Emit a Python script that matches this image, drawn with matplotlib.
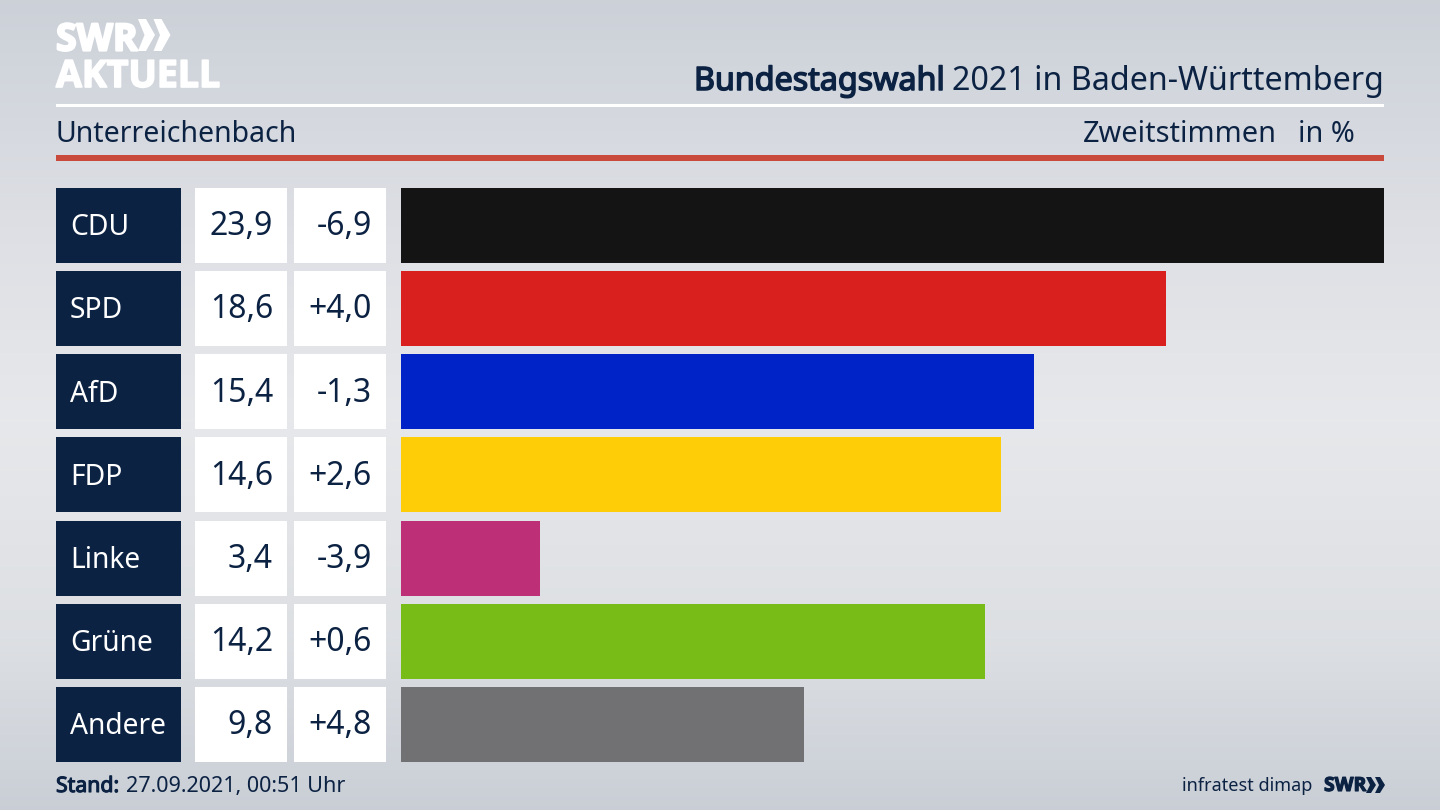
import numpy as np
import matplotlib
matplotlib.use("Agg")
import matplotlib.pyplot as plt
import matplotlib.patheffects as pe
from matplotlib.patches import Rectangle, Polygon

parties = ["CDU", "SPD", "AfD", "FDP", "Linke", "Grüne", "Andere"]
shares = [23.9, 18.6, 15.4, 14.6, 3.4, 14.2, 9.8]
changes = ["-6,9", "+4,0", "-1,3", "+2,6", "-3,9", "+0,6", "+4,8"]
colors = ["#141414", "#d9201f", "#0023c8", "#ffcc08", "#bd2f76", "#78bc18", "#717173"]

NAVY = "#0c2243"
FONT = "Noto Sans"
W, H = 1440, 810
plt.rcParams["font.family"] = [FONT, "DejaVu Sans"]


def heavy(color, lw):
    return [pe.withStroke(linewidth=lw, foreground=color)]


fig = plt.figure(figsize=(14.4, 8.1), dpi=100)

# overlay in pixel coordinates
ov = fig.add_axes([0, 0, 1, 1])
ov.set_xlim(0, W)
ov.set_ylim(H, 0)
ov.axis("off")

# background gradient
stops_y = [0, 100, 250, 420, 640, 810]
stops_c = [(0.80, 0.82, 0.85), (0.83, 0.845, 0.87), (0.875, 0.88, 0.90), (0.905, 0.91, 0.92),
           (0.865, 0.875, 0.89), (0.79, 0.81, 0.84)]
yy = np.arange(H)
grad = np.stack([np.interp(yy, stops_y, [c[i] for c in stops_c]) for i in range(3)], axis=1)[:, None, :]
ov.imshow(grad, extent=(0, W, H, 0), aspect="auto", zorder=0)

# logo
ov.text(56, 50.5, "SWR", color="white", fontsize=27, fontweight="bold", family="Open Sans", va="baseline",
        zorder=3, path_effects=heavy("white", 1.6))
ov.text(56, 87, "AKTUELL", color="white", fontsize=27, fontweight="bold", family="Open Sans", va="baseline",
        zorder=3, path_effects=heavy("white", 1.2))
for dx in (0, 15.5):
    ov.add_patch(Polygon([(138+dx, 19), (146+dx, 19), (155+dx, 35), (146+dx, 51), (138+dx, 51), (144.5+dx, 35)],
                         closed=True, fc="white", ec="none", zorder=3))

# header
ov.text(945, 90, "Bundestagswahl", color=NAVY, fontsize=23.2, ha="right", va="baseline", zorder=3,
        path_effects=heavy(NAVY, 1.1))
ov.text(1384, 90, "2021 in Baden-Württemberg", color=NAVY, fontsize=23.2, ha="right", va="baseline", zorder=3)
ov.add_patch(Rectangle((56, 104), 1328, 3, fc="white", ec="none", zorder=2))
ov.text(56, 142, "Unterreichenbach", color=NAVY, fontsize=20.5, va="baseline", zorder=3)
ov.text(1277, 142, "Zweitstimmen", color=NAVY, fontsize=20.8, ha="right", va="baseline", zorder=3)
ov.text(1355, 142, "in %", color=NAVY, fontsize=20.8, ha="right", va="baseline", zorder=3)
ov.add_patch(Rectangle((56, 155), 1328, 5.5, fc="#c94a3c", ec="none", zorder=2))

# table cells
top0, step, rh = 187.5, 83.25, 75
for i, (p, s, c) in enumerate(zip(parties, shares, changes)):
    y = top0 + i * step
    ym = y + rh / 2
    ov.add_patch(Rectangle((56, y), 125, rh, fc=NAVY, ec="none", zorder=2))
    ov.add_patch(Rectangle((195, y), 92, rh, fc="white", ec="none", zorder=2))
    ov.add_patch(Rectangle((294, y), 92, rh, fc="white", ec="none", zorder=2))
    base = ym + 10
    ov.text(70, base, p, color="white", fontsize=20.3, va="baseline", zorder=3)
    ov.text(273, base, f"{s:.1f}".replace(".", ","), color=NAVY, fontsize=23, ha="right", va="baseline", zorder=3)
    ov.text(372, base, c, color=NAVY, fontsize=23, ha="right", va="baseline", zorder=3)

# bars on their own axes
ax = fig.add_axes([400.5 / W, 1 - (top0 + 6 * step + rh) / H, (1384 - 400.5) / W, (6 * step + rh) / H])
ax.patch.set_alpha(0)
ax.axis("off")
ax.set_xlim(0, max(shares))
ax.set_ylim(6 + rh / step / 2, -rh / step / 2)
ax.barh(range(len(parties)), shares, height=rh / step, color=colors, linewidth=0)

# footer
ov.text(56, 792, "Stand:", color=NAVY, fontsize=15.3, va="baseline", zorder=3, path_effects=heavy(NAVY, 0.8))
ov.text(126, 792, "27.09.2021, 00:51 Uhr", color=NAVY, fontsize=15.5, va="baseline", zorder=3)
ov.text(1312, 791, "infratest dimap", color=NAVY, fontsize=13, ha="right", va="baseline", zorder=3)
ov.text(1324, 791, "SWR", color=NAVY, fontsize=14, fontweight="bold", family="Open Sans", va="baseline",
        zorder=3, path_effects=heavy(NAVY, 0.8))
for dx in (0, 9):
    ov.add_patch(Polygon([(1366+dx, 777), (1371+dx, 777), (1376+dx, 785), (1371+dx, 793), (1366+dx, 793), (1370+dx, 785)],
                         closed=True, fc=NAVY, ec="none", zorder=3))

fig.savefig("out.png", dpi=100)
